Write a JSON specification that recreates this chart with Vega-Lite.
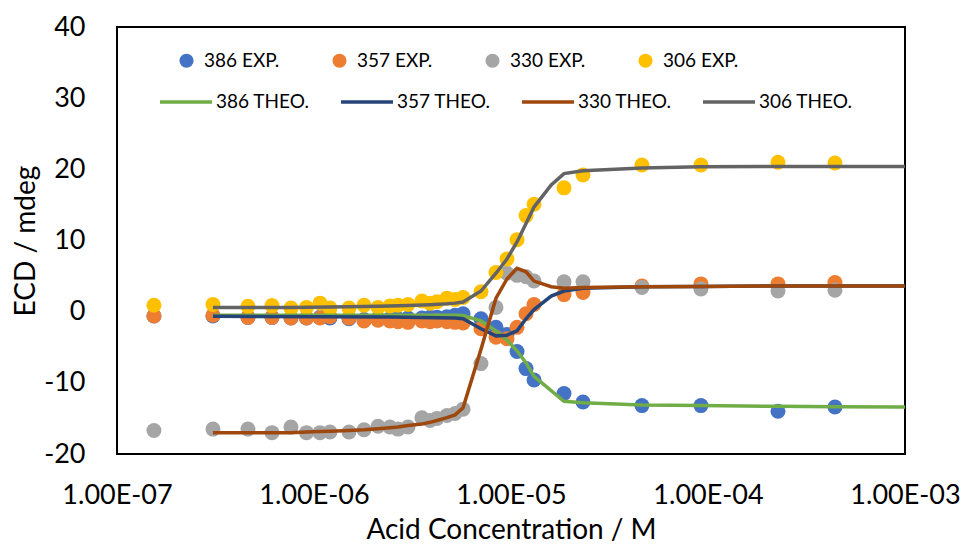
{
  "$schema": "https://vega.github.io/schema/vega-lite/v6.json",
  "width": 788,
  "height": 427,
  "autosize": {"type": "none"},
  "padding": {"left": 117, "top": 27, "right": 57, "bottom": 91},
  "background": "white",
  "config": {
    "font": "Lato",
    "view": {"stroke": "black", "strokeWidth": 2},
    "axis": {
      "domain": false,
      "ticks": false,
      "grid": false,
      "labelFont": "Lato",
      "labelFontSize": 27,
      "labelColor": "black",
      "titleFont": "Lato",
      "titleFontSize": 28,
      "titleFontWeight": "normal",
      "titleColor": "black"
    },
    "legend": {
      "labelFont": "Lato",
      "labelFontSize": 19,
      "labelColor": "black",
      "padding": 0
    }
  },
  "datasets": {
    "exp": [
      {"x": 1.54e-7, "y": -0.6, "s": "386 EXP."},
      {"x": 3.07e-7, "y": -0.6, "s": "386 EXP."},
      {"x": 4.62e-7, "y": -0.8, "s": "386 EXP."},
      {"x": 6.12e-7, "y": -0.8, "s": "386 EXP."},
      {"x": 7.64e-7, "y": -0.9, "s": "386 EXP."},
      {"x": 9.16e-7, "y": -0.9, "s": "386 EXP."},
      {"x": 1.073e-6, "y": -0.8, "s": "386 EXP."},
      {"x": 1.205e-6, "y": -0.9, "s": "386 EXP."},
      {"x": 1.505e-6, "y": -1.0, "s": "386 EXP."},
      {"x": 1.794e-6, "y": -1.1, "s": "386 EXP."},
      {"x": 2.113e-6, "y": -1.0, "s": "386 EXP."},
      {"x": 2.43e-6, "y": -1.0, "s": "386 EXP."},
      {"x": 2.67e-6, "y": -1.0, "s": "386 EXP."},
      {"x": 3.0e-6, "y": -0.9, "s": "386 EXP."},
      {"x": 3.53e-6, "y": -0.9, "s": "386 EXP."},
      {"x": 3.88e-6, "y": -0.8, "s": "386 EXP."},
      {"x": 4.21e-6, "y": -0.8, "s": "386 EXP."},
      {"x": 4.73e-6, "y": -0.7, "s": "386 EXP."},
      {"x": 5.2e-6, "y": -0.5, "s": "386 EXP."},
      {"x": 5.71e-6, "y": -0.3, "s": "386 EXP."},
      {"x": 7.04e-6, "y": -1.0, "s": "386 EXP."},
      {"x": 8.39e-6, "y": -2.2, "s": "386 EXP."},
      {"x": 9.54e-6, "y": -3.2, "s": "386 EXP."},
      {"x": 1.073e-5, "y": -5.6, "s": "386 EXP."},
      {"x": 1.192e-5, "y": -8.0, "s": "386 EXP."},
      {"x": 1.309e-5, "y": -9.6, "s": "386 EXP."},
      {"x": 1.858e-5, "y": -11.5, "s": "386 EXP."},
      {"x": 2.32e-5, "y": -12.7, "s": "386 EXP."},
      {"x": 4.62e-5, "y": -13.2, "s": "386 EXP."},
      {"x": 9.21e-5, "y": -13.2, "s": "386 EXP."},
      {"x": 2.266e-4, "y": -14.0, "s": "386 EXP."},
      {"x": 4.41e-4, "y": -13.4, "s": "386 EXP."},

      {"x": 1.54e-7, "y": -0.6, "s": "357 EXP."},
      {"x": 3.07e-7, "y": -0.5, "s": "357 EXP."},
      {"x": 4.62e-7, "y": -0.8, "s": "357 EXP."},
      {"x": 6.12e-7, "y": -0.8, "s": "357 EXP."},
      {"x": 7.64e-7, "y": -0.9, "s": "357 EXP."},
      {"x": 9.16e-7, "y": -0.9, "s": "357 EXP."},
      {"x": 1.073e-6, "y": -0.9, "s": "357 EXP."},
      {"x": 1.205e-6, "y": -0.7, "s": "357 EXP."},
      {"x": 1.505e-6, "y": -0.9, "s": "357 EXP."},
      {"x": 1.794e-6, "y": -1.3, "s": "357 EXP."},
      {"x": 2.113e-6, "y": -1.2, "s": "357 EXP."},
      {"x": 2.43e-6, "y": -1.3, "s": "357 EXP."},
      {"x": 2.67e-6, "y": -1.4, "s": "357 EXP."},
      {"x": 3.0e-6, "y": -1.5, "s": "357 EXP."},
      {"x": 3.53e-6, "y": -1.3, "s": "357 EXP."},
      {"x": 3.88e-6, "y": -1.4, "s": "357 EXP."},
      {"x": 4.21e-6, "y": -1.3, "s": "357 EXP."},
      {"x": 4.73e-6, "y": -1.4, "s": "357 EXP."},
      {"x": 5.2e-6, "y": -1.5, "s": "357 EXP."},
      {"x": 5.71e-6, "y": -1.6, "s": "357 EXP."},
      {"x": 7.04e-6, "y": -2.4, "s": "357 EXP."},
      {"x": 8.39e-6, "y": -3.6, "s": "357 EXP."},
      {"x": 9.54e-6, "y": -3.8, "s": "357 EXP."},
      {"x": 1.073e-5, "y": -2.2, "s": "357 EXP."},
      {"x": 1.192e-5, "y": -0.3, "s": "357 EXP."},
      {"x": 1.309e-5, "y": 1.0, "s": "357 EXP."},
      {"x": 1.858e-5, "y": 2.4, "s": "357 EXP."},
      {"x": 2.32e-5, "y": 2.7, "s": "357 EXP."},
      {"x": 4.62e-5, "y": 3.6, "s": "357 EXP."},
      {"x": 9.21e-5, "y": 3.9, "s": "357 EXP."},
      {"x": 2.266e-4, "y": 3.9, "s": "357 EXP."},
      {"x": 4.41e-4, "y": 4.1, "s": "357 EXP."},

      {"x": 1.54e-7, "y": -16.7, "s": "330 EXP."},
      {"x": 3.07e-7, "y": -16.5, "s": "330 EXP."},
      {"x": 4.62e-7, "y": -16.5, "s": "330 EXP."},
      {"x": 6.12e-7, "y": -17.0, "s": "330 EXP."},
      {"x": 7.64e-7, "y": -16.2, "s": "330 EXP."},
      {"x": 9.16e-7, "y": -17.0, "s": "330 EXP."},
      {"x": 1.073e-6, "y": -17.0, "s": "330 EXP."},
      {"x": 1.205e-6, "y": -16.9, "s": "330 EXP."},
      {"x": 1.505e-6, "y": -16.9, "s": "330 EXP."},
      {"x": 1.794e-6, "y": -16.6, "s": "330 EXP."},
      {"x": 2.113e-6, "y": -16.1, "s": "330 EXP."},
      {"x": 2.43e-6, "y": -16.2, "s": "330 EXP."},
      {"x": 2.67e-6, "y": -16.5, "s": "330 EXP."},
      {"x": 3.0e-6, "y": -16.2, "s": "330 EXP."},
      {"x": 3.53e-6, "y": -14.9, "s": "330 EXP."},
      {"x": 3.88e-6, "y": -15.3, "s": "330 EXP."},
      {"x": 4.21e-6, "y": -15.0, "s": "330 EXP."},
      {"x": 4.73e-6, "y": -14.6, "s": "330 EXP."},
      {"x": 5.2e-6, "y": -14.3, "s": "330 EXP."},
      {"x": 5.71e-6, "y": -13.7, "s": "330 EXP."},
      {"x": 7.04e-6, "y": -7.3, "s": "330 EXP."},
      {"x": 8.39e-6, "y": 0.6, "s": "330 EXP."},
      {"x": 9.54e-6, "y": 5.4, "s": "330 EXP."},
      {"x": 1.073e-5, "y": 5.1, "s": "330 EXP."},
      {"x": 1.192e-5, "y": 4.9, "s": "330 EXP."},
      {"x": 1.309e-5, "y": 4.3, "s": "330 EXP."},
      {"x": 1.858e-5, "y": 4.2, "s": "330 EXP."},
      {"x": 2.32e-5, "y": 4.2, "s": "330 EXP."},
      {"x": 4.62e-5, "y": 3.4, "s": "330 EXP."},
      {"x": 9.21e-5, "y": 3.2, "s": "330 EXP."},
      {"x": 2.266e-4, "y": 2.9, "s": "330 EXP."},
      {"x": 4.41e-4, "y": 3.0, "s": "330 EXP."},

      {"x": 1.54e-7, "y": 0.9, "s": "306 EXP."},
      {"x": 3.07e-7, "y": 1.0, "s": "306 EXP."},
      {"x": 4.62e-7, "y": 0.75, "s": "306 EXP."},
      {"x": 6.12e-7, "y": 0.85, "s": "306 EXP."},
      {"x": 7.64e-7, "y": 0.5, "s": "306 EXP."},
      {"x": 9.16e-7, "y": 0.6, "s": "306 EXP."},
      {"x": 1.073e-6, "y": 1.2, "s": "306 EXP."},
      {"x": 1.205e-6, "y": 0.5, "s": "306 EXP."},
      {"x": 1.505e-6, "y": 0.5, "s": "306 EXP."},
      {"x": 1.794e-6, "y": 0.9, "s": "306 EXP."},
      {"x": 2.113e-6, "y": 0.6, "s": "306 EXP."},
      {"x": 2.43e-6, "y": 0.8, "s": "306 EXP."},
      {"x": 2.67e-6, "y": 0.9, "s": "306 EXP."},
      {"x": 3.0e-6, "y": 1.0, "s": "306 EXP."},
      {"x": 3.53e-6, "y": 1.5, "s": "306 EXP."},
      {"x": 3.88e-6, "y": 1.2, "s": "306 EXP."},
      {"x": 4.21e-6, "y": 1.4, "s": "306 EXP."},
      {"x": 4.73e-6, "y": 1.9, "s": "306 EXP."},
      {"x": 5.2e-6, "y": 1.7, "s": "306 EXP."},
      {"x": 5.71e-6, "y": 2.0, "s": "306 EXP."},
      {"x": 7.04e-6, "y": 2.8, "s": "306 EXP."},
      {"x": 8.39e-6, "y": 5.5, "s": "306 EXP."},
      {"x": 9.54e-6, "y": 7.4, "s": "306 EXP."},
      {"x": 1.073e-5, "y": 10.1, "s": "306 EXP."},
      {"x": 1.192e-5, "y": 13.5, "s": "306 EXP."},
      {"x": 1.309e-5, "y": 15.1, "s": "306 EXP."},
      {"x": 1.858e-5, "y": 17.4, "s": "306 EXP."},
      {"x": 2.32e-5, "y": 19.2, "s": "306 EXP."},
      {"x": 4.62e-5, "y": 20.6, "s": "306 EXP."},
      {"x": 9.21e-5, "y": 20.6, "s": "306 EXP."},
      {"x": 2.266e-4, "y": 21.0, "s": "306 EXP."},
      {"x": 4.41e-4, "y": 20.9, "s": "306 EXP."}
    ],
    "theo": [
      {"x": 3.07e-7, "y": -0.5, "s": "386 THEO."},
      {"x": 1.073e-6, "y": -0.5, "s": "386 THEO."},
      {"x": 2.43e-6, "y": -0.5, "s": "386 THEO."},
      {"x": 4.21e-6, "y": -0.5, "s": "386 THEO."},
      {"x": 5.2e-6, "y": -0.5, "s": "386 THEO."},
      {"x": 5.71e-6, "y": -0.55, "s": "386 THEO."},
      {"x": 7.04e-6, "y": -1.3, "s": "386 THEO."},
      {"x": 8.39e-6, "y": -2.7, "s": "386 THEO."},
      {"x": 9.54e-6, "y": -4.0, "s": "386 THEO."},
      {"x": 1.073e-5, "y": -5.5, "s": "386 THEO."},
      {"x": 1.192e-5, "y": -7.2, "s": "386 THEO."},
      {"x": 1.309e-5, "y": -9.1, "s": "386 THEO."},
      {"x": 1.858e-5, "y": -12.6, "s": "386 THEO."},
      {"x": 2.32e-5, "y": -12.8, "s": "386 THEO."},
      {"x": 4.62e-5, "y": -13.1, "s": "386 THEO."},
      {"x": 9.21e-5, "y": -13.2, "s": "386 THEO."},
      {"x": 2.266e-4, "y": -13.3, "s": "386 THEO."},
      {"x": 4.41e-4, "y": -13.35, "s": "386 THEO."},
      {"x": 1e-3, "y": -13.4, "s": "386 THEO."},

      {"x": 3.07e-7, "y": -0.65, "s": "357 THEO."},
      {"x": 1.073e-6, "y": -0.7, "s": "357 THEO."},
      {"x": 2.43e-6, "y": -0.75, "s": "357 THEO."},
      {"x": 4.21e-6, "y": -0.85, "s": "357 THEO."},
      {"x": 5.2e-6, "y": -0.9, "s": "357 THEO."},
      {"x": 5.71e-6, "y": -1.0, "s": "357 THEO."},
      {"x": 7.04e-6, "y": -2.4, "s": "357 THEO."},
      {"x": 8.39e-6, "y": -3.4, "s": "357 THEO."},
      {"x": 9.54e-6, "y": -3.3, "s": "357 THEO."},
      {"x": 1.073e-5, "y": -2.7, "s": "357 THEO."},
      {"x": 1.192e-5, "y": -1.0, "s": "357 THEO."},
      {"x": 1.309e-5, "y": 0.3, "s": "357 THEO."},
      {"x": 1.6e-5, "y": 2.2, "s": "357 THEO."},
      {"x": 1.858e-5, "y": 2.9, "s": "357 THEO."},
      {"x": 2.32e-5, "y": 3.3, "s": "357 THEO."},
      {"x": 4.62e-5, "y": 3.5, "s": "357 THEO."},
      {"x": 9.21e-5, "y": 3.55, "s": "357 THEO."},
      {"x": 2.266e-4, "y": 3.6, "s": "357 THEO."},
      {"x": 4.41e-4, "y": 3.6, "s": "357 THEO."},
      {"x": 1e-3, "y": 3.6, "s": "357 THEO."},

      {"x": 3.07e-7, "y": -17.0, "s": "330 THEO."},
      {"x": 4.62e-7, "y": -17.0, "s": "330 THEO."},
      {"x": 6.12e-7, "y": -17.0, "s": "330 THEO."},
      {"x": 7.64e-7, "y": -17.0, "s": "330 THEO."},
      {"x": 9.16e-7, "y": -16.9, "s": "330 THEO."},
      {"x": 1.073e-6, "y": -16.85, "s": "330 THEO."},
      {"x": 1.205e-6, "y": -16.8, "s": "330 THEO."},
      {"x": 1.505e-6, "y": -16.7, "s": "330 THEO."},
      {"x": 1.794e-6, "y": -16.6, "s": "330 THEO."},
      {"x": 2.113e-6, "y": -16.45, "s": "330 THEO."},
      {"x": 2.43e-6, "y": -16.3, "s": "330 THEO."},
      {"x": 2.67e-6, "y": -16.2, "s": "330 THEO."},
      {"x": 3.0e-6, "y": -16.0, "s": "330 THEO."},
      {"x": 3.53e-6, "y": -15.8, "s": "330 THEO."},
      {"x": 3.88e-6, "y": -15.55, "s": "330 THEO."},
      {"x": 4.21e-6, "y": -15.3, "s": "330 THEO."},
      {"x": 4.73e-6, "y": -14.9, "s": "330 THEO."},
      {"x": 5.2e-6, "y": -14.5, "s": "330 THEO."},
      {"x": 5.71e-6, "y": -13.5, "s": "330 THEO."},
      {"x": 7.04e-6, "y": -5.3, "s": "330 THEO."},
      {"x": 8.39e-6, "y": 1.9, "s": "330 THEO."},
      {"x": 9.54e-6, "y": 4.6, "s": "330 THEO."},
      {"x": 1.073e-5, "y": 6.1, "s": "330 THEO."},
      {"x": 1.192e-5, "y": 5.6, "s": "330 THEO."},
      {"x": 1.309e-5, "y": 4.3, "s": "330 THEO."},
      {"x": 1.6e-5, "y": 3.5, "s": "330 THEO."},
      {"x": 1.858e-5, "y": 3.3, "s": "330 THEO."},
      {"x": 2.32e-5, "y": 3.4, "s": "330 THEO."},
      {"x": 4.62e-5, "y": 3.5, "s": "330 THEO."},
      {"x": 9.21e-5, "y": 3.55, "s": "330 THEO."},
      {"x": 2.266e-4, "y": 3.6, "s": "330 THEO."},
      {"x": 4.41e-4, "y": 3.6, "s": "330 THEO."},
      {"x": 1e-3, "y": 3.6, "s": "330 THEO."},

      {"x": 3.07e-7, "y": 0.6, "s": "306 THEO."},
      {"x": 7.64e-7, "y": 0.6, "s": "306 THEO."},
      {"x": 1.205e-6, "y": 0.66, "s": "306 THEO."},
      {"x": 1.794e-6, "y": 0.72, "s": "306 THEO."},
      {"x": 2.43e-6, "y": 0.8, "s": "306 THEO."},
      {"x": 3.0e-6, "y": 0.87, "s": "306 THEO."},
      {"x": 3.88e-6, "y": 0.98, "s": "306 THEO."},
      {"x": 4.73e-6, "y": 1.1, "s": "306 THEO."},
      {"x": 5.2e-6, "y": 1.2, "s": "306 THEO."},
      {"x": 5.71e-6, "y": 1.35, "s": "306 THEO."},
      {"x": 7.04e-6, "y": 2.9, "s": "306 THEO."},
      {"x": 8.39e-6, "y": 5.4, "s": "306 THEO."},
      {"x": 9.54e-6, "y": 7.4, "s": "306 THEO."},
      {"x": 1.073e-5, "y": 9.8, "s": "306 THEO."},
      {"x": 1.192e-5, "y": 12.4, "s": "306 THEO."},
      {"x": 1.309e-5, "y": 14.7, "s": "306 THEO."},
      {"x": 1.6e-5, "y": 17.8, "s": "306 THEO."},
      {"x": 1.858e-5, "y": 19.4, "s": "306 THEO."},
      {"x": 2.32e-5, "y": 19.8, "s": "306 THEO."},
      {"x": 4.62e-5, "y": 20.2, "s": "306 THEO."},
      {"x": 9.21e-5, "y": 20.35, "s": "306 THEO."},
      {"x": 2.266e-4, "y": 20.4, "s": "306 THEO."},
      {"x": 4.41e-4, "y": 20.4, "s": "306 THEO."},
      {"x": 1e-3, "y": 20.4, "s": "306 THEO."}
    ]
  },
  "encoding": {
    "x": {
      "field": "x",
      "type": "quantitative",
      "scale": {"type": "log", "domain": [1e-7, 1e-3], "nice": false},
      "axis": {
        "title": "Acid Concentration / M",
        "values": [1e-7, 1e-6, 1e-5, 1e-4, 1e-3],
        "labelExpr": "replace(format(datum.value, '.2e'), 'e-', 'E-0')",
        "labelPadding": 28,
        "labelOverlap": false,
        "labelFlush": false,
        "titlePadding": 8
      }
    },
    "y": {
      "field": "y",
      "type": "quantitative",
      "scale": {"domain": [-20, 40], "nice": false, "zero": false},
      "axis": {
        "title": "ECD  / mdeg",
        "values": [-20, -10, 0, 10, 20, 30, 40],
        "labelExpr": "datum.value < 0 ? '-' + abs(datum.value) : '' + datum.value",
        "labelPadding": 32,
        "titlePadding": 3
      }
    }
  },
  "layer": [
    {
      "data": {"name": "exp"},
      "mark": {"type": "point", "filled": true, "size": 225, "opacity": 1, "strokeWidth": 0},
      "encoding": {
        "fill": {
          "field": "s",
          "type": "nominal",
          "sort": null,
          "scale": {
            "domain": ["386 EXP.", "357 EXP.", "330 EXP.", "306 EXP."],
            "range": ["#4472C4", "#ED7D31", "#A5A5A5", "#FFC000"]
          },
          "legend": {
            "title": null,
            "orient": "none",
            "legendX": 60,
            "legendY": 24,
            "direction": "horizontal",
            "columns": 4,
            "columnPadding": 50,
            "symbolType": "circle",
            "symbolSize": 200,
            "symbolStrokeWidth": 0,
            "labelOffset": 8
          }
        }
      }
    },
    {
      "data": {"name": "theo"},
      "mark": {"type": "line", "strokeWidth": 3.5},
      "encoding": {
        "stroke": {
          "field": "s",
          "type": "nominal",
          "sort": null,
          "scale": {
            "domain": ["386 THEO.", "357 THEO.", "330 THEO.", "306 THEO."],
            "range": ["#70AD47", "#264478", "#9E480E", "#636363"]
          },
          "legend": {
            "title": null,
            "orient": "none",
            "legendX": 41,
            "legendY": 47,
            "direction": "horizontal",
            "columns": 4,
            "columnPadding": 24,
            "symbolType": "stroke",
            "symbolSize": 2704,
            "symbolStrokeWidth": 3.5,
            "labelOffset": 2
          }
        }
      }
    }
  ]
}
